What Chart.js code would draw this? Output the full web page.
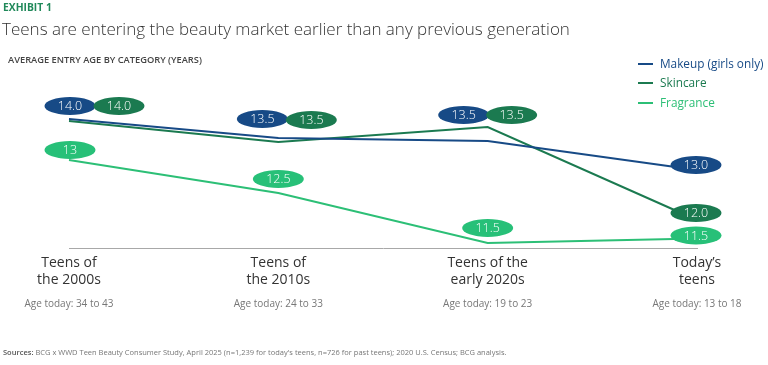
<!DOCTYPE html>
<html>
<head>
<meta charset="utf-8">
<script src="https://cdn.jsdelivr.net/npm/chart.js@4.4.1/dist/chart.umd.min.js"></script>
<style>
  html, body { margin: 0; padding: 0; background: #fff; }
  body { width: 768px; height: 365px; position: relative; overflow: hidden; font-family: "Open Sans", sans-serif; }
  #wrap { position: absolute; left: 0; top: 0; width: 768px; height: 365px; }
  .abs { position: absolute; white-space: nowrap; line-height: 1; }
  #exhibit { left: 3px; top: 2px; font-size: 10.3px; font-weight: 700; color: #21895a; }
  #title { left: 2px; top: 20px; font-size: 17px; font-weight: 300; color: #333; }
  #subtitle { left: 8px; top: 55px; font-size: 9.3px; font-weight: 600; color: #444; }
  #legend { left: 638px; top: 54px; }
  .leg { display: flex; align-items: center; height: 19.5px; font-size: 11.8px; }
  .leg i { display: inline-block; width: 15px; height: 2px; margin-right: 7px; }
  #sources { left: 3px; top: 349px; font-size: 7.5px; color: #777; }
  #sources b { font-weight: 600; color: #555; }
</style>
</head>
<body>
<div id="wrap"><canvas id="chart"></canvas></div>
<div id="exhibit" class="abs">EXHIBIT 1</div>
<div id="title" class="abs">Teens are entering the beauty market earlier than any previous generation</div>
<div id="subtitle" class="abs">AVERAGE ENTRY AGE BY CATEGORY (YEARS)</div>
<div id="legend" class="abs"></div>
<div id="sources" class="abs"><b>Sources:</b> BCG x WWD Teen Beauty Consumer Study, April 2025 (n=1,239 for today's teens, n=726 for past teens); 2020 U.S. Census; BCG analysis.</div>
<script>
// categories and sub labels
const generations = [['Teens of', 'the 2000s'], ['Teens of', 'the 2010s'], ['Teens of the', 'early 2020s'], ['Today\u2019s', 'teens']];
const agesToday = ['Age today: 34 to 43', 'Age today: 24 to 33', 'Age today: 19 to 23', 'Age today: 13 to 18'];

// average entry age, as plotted
const makeup = [13.88, 13.5, 13.44, 12.86];
const skincare = [13.84, 13.42, 13.72, 11.86];
const fragrance = [13.06, 12.4, 11.4, 11.49];

// values as printed in the bubbles
const makeupLabels = ['14.0', '13.5', '13.5', '13.0'];
const skincareLabels = ['14.0', '13.5', '13.5', '12.0'];
const fragranceLabels = ['13', '12.5', '11.5', '11.5'];

const seriesNames = ['Makeup (girls only)', 'Skincare', 'Fragrance'];
const colors = ['#174a86', '#1b7a50', '#2cbf76'];
const bubbleColors = ['#174a86', '#1b7a50', '#27c078'];

// bubble offsets from each point (px)
const bubbleOffsets = [
  [[1, -13], [-16, -19], [-24, -26], [-1, -5]],
  [[50, -15], [33, -22], [24, -12], [-1, -7]],
  [[1, -10], [0, -14], [0, -15], [-1, -3]]
];

document.getElementById('legend').innerHTML = seriesNames.map((n, i) =>
  `<div class="leg" style="color:${colors[i]}"><i style="background:${colors[i]}"></i>${n}</div>`
).join('');

const bubbles = {
  id: 'bubbles',
  afterDatasetsDraw(chart) {
    const ctx = chart.ctx;
    const texts = [makeupLabels, skincareLabels, fragranceLabels];
    ctx.save();
    chart.data.datasets.forEach((ds, di) => {
      const meta = chart.getDatasetMeta(di);
      meta.data.forEach((pt, i) => {
        const [dx, dy] = bubbleOffsets[di][i];
        const cx = pt.x + dx, cy = pt.y + dy;
        ctx.beginPath();
        ctx.ellipse(cx, cy, 25.5, 9, 0, 0, Math.PI * 2);
        ctx.fillStyle = bubbleColors[di];
        ctx.fill();
        ctx.fillStyle = '#fff';
        ctx.font = '300 12.5px "Open Sans"';
        ctx.textAlign = 'center';
        ctx.textBaseline = 'middle';
        ctx.fillText(texts[di][i], cx, cy + 0.5);
      });
    });
    ctx.restore();
  }
};

const mkSet = (label, data, i) => ({
  label, data,
  borderColor: colors[i],
  borderWidth: 2,
  pointRadius: 0,
  tension: 0,
  clip: false
});

new Chart(document.getElementById('chart'), {
  type: 'line',
  data: {
    labels: generations,
    datasets: [
      mkSet(seriesNames[0], makeup, 0),
      mkSet(seriesNames[1], skincare, 1),
      mkSet(seriesNames[2], fragrance, 2)
    ]
  },
  options: {
    responsive: true,
    maintainAspectRatio: false,
    animation: false,
    layout: { padding: { left: 69, right: 71, top: 98, bottom: 50 } },
    plugins: { legend: { display: false }, tooltip: { enabled: false } },
    scales: {
      x: {
        offset: false,
        weight: 0,
        grid: { display: false, drawTicks: false },
        border: { display: true, color: '#a8a8a8', width: 1 },
        ticks: {
          padding: 6, maxRotation: 0, autoSkip: false, color: '#333',
          font: { family: 'Open Sans', size: 14, lineHeight: 1.22 }
        },
        afterFit: s => { s.height = 45; }
      },
      x2: {
        type: 'category',
        labels: agesToday,
        position: 'bottom',
        offset: false,
        weight: 1,
        grid: { display: false, drawTicks: false },
        border: { display: false },
        ticks: {
          padding: 5, maxRotation: 0, autoSkip: false, color: '#777',
          font: { family: 'Open Sans', size: 10 }
        },
        afterFit: s => { s.height = 22; }
      },
      y: { display: false, min: 11.3, max: 14.3 }
    }
  },
  plugins: [bubbles]
});
</script>
</body>
</html>
